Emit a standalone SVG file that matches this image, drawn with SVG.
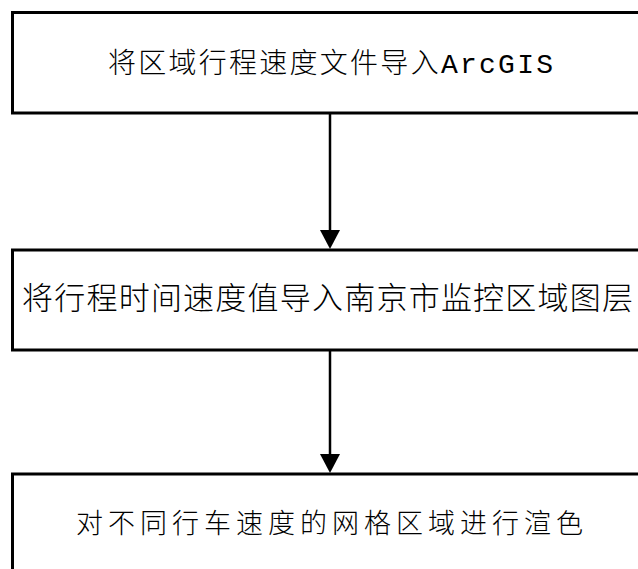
<svg xmlns="http://www.w3.org/2000/svg" width="638" height="569" viewBox="0 0 638 569">
<style>
.box{fill:#fff;stroke:#000;stroke-width:3}
.t{font-family:"Liberation Mono","Noto Sans CJK SC",monospace;fill:#000;font-weight:300}
.ln{stroke:#000;stroke-width:2.5;fill:none}
.ah{fill:#000;stroke:none}
</style>
<rect width="638" height="569" fill="#fff"/>
<g id="node1">
<rect class="box" x="12.5" y="12.5" width="640" height="100.5"/>
<text class="t" x="108" y="73" font-size="28" textLength="445" lengthAdjust="spacing">将区域行程速度文件导入ArcGIS</text>
</g>
<g id="node2">
<rect class="box" x="12.5" y="250" width="640" height="100"/>
<text class="t" x="22" y="309" font-size="31" textLength="611" lengthAdjust="spacing">将行程时间速度值导入南京市监控区域图层</text>
</g>
<g id="node3">
<rect class="box" x="12.5" y="474" width="640" height="120"/>
<text class="t" x="76" y="533" font-size="27" textLength="507" lengthAdjust="spacing">对不同行车速度的网格区域进行渲色</text>
</g>
<g id="connectors">
<line class="ln" x1="330" y1="113" x2="330" y2="232"/>
<polygon class="ah" points="320,230 340,230 330,249"/>
<line class="ln" x1="330" y1="350" x2="330" y2="456"/>
<polygon class="ah" points="320,454 340,454 330,473"/>
</g>
</svg>
